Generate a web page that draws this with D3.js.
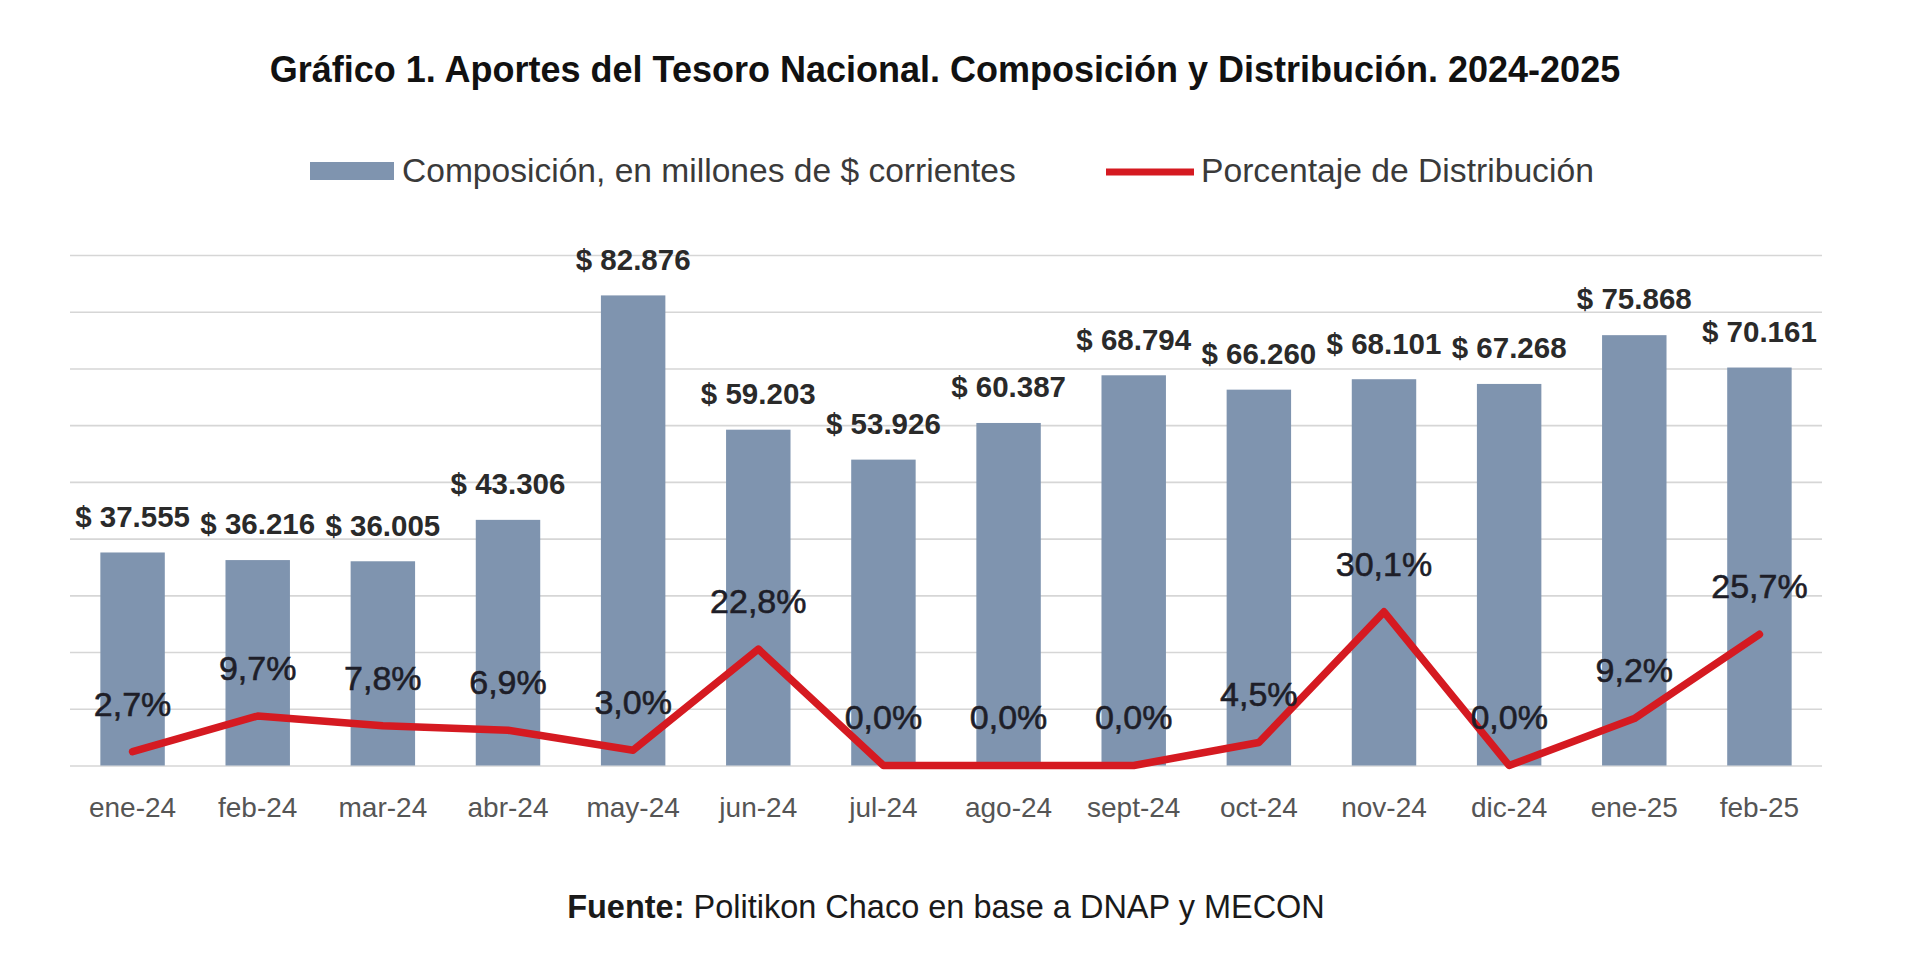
<!DOCTYPE html>
<html>
<head>
<meta charset="utf-8">
<script src="https://cdn.jsdelivr.net/npm/d3@7"></script>
<style>
  html, body { margin: 0; padding: 0; background: #ffffff; }
  svg { display: block; font-family: "Liberation Sans", Arial, sans-serif; }
</style>
</head>
<body>
<svg id="chart" width="1920" height="966"></svg>
<script>
// ---- Data ----
const categories = ["ene-24","feb-24","mar-24","abr-24","may-24","jun-24","jul-24","ago-24","sept-24","oct-24","nov-24","dic-24","ene-25","feb-25"];
const montos = [37555, 36216, 36005, 43306, 82876, 59203, 53926, 60387, 68794, 66260, 68101, 67268, 75868, 70161];
const porcentajes = [2.7, 9.7, 7.8, 6.9, 3.0, 22.8, 0.0, 0.0, 0.0, 4.5, 30.1, 0.0, 9.2, 25.7];
const yTicks = [0, 10000, 20000, 30000, 40000, 50000, 60000, 70000, 80000, 90000];
const titleText = "Gráfico 1. Aportes del Tesoro Nacional. Composición y Distribución. 2024-2025";
const legendBars = "Composición, en millones de $ corrientes";
const legendLine = "Porcentaje de Distribución";
const sourceBold = "Fuente:";
const sourceText = " Politikon Chaco en base a DNAP y MECON";

// ---- Layout ----
const svg = d3.select("#chart");
const plotLeft = 70, plotRight = 1822, plotTop = 255, plotBottom = 765.5;
const barColor = "#7f94af";
const lineColor = "#d51a21";

const locale = d3.formatLocale({decimal: ",", thousands: ".", grouping: [3], currency: ["$ ", ""]});
const fmtMonto = v => "$ " + locale.format(",")(v);
const fmtPct = v => locale.format(".1f")(v) + "%";

const x = d3.scaleBand().domain(categories).range([plotLeft, plotRight]).paddingInner(0.485).paddingOuter(0.2425);
const y = d3.scaleLinear().domain([0, 90000]).range([plotBottom, plotTop]);
const y2 = d3.scaleLinear().domain([0, 100]).range([plotBottom, plotTop]);

// fit text to a width helper
function fitText(sel, targetWidth, baseSize) {
  sel.attr("font-size", baseSize);
  const w = sel.node().getComputedTextLength();
  if (w > 0) sel.attr("font-size", baseSize * targetWidth / w);
}

// Title
const title = svg.append("text")
  .attr("x", 945).attr("y", 69).attr("dy", "0.35em")
  .attr("text-anchor", "middle").attr("font-weight", "bold").attr("fill", "#111")
  .text(titleText);
fitText(title, 1351, 30);

// Legend
svg.append("rect").attr("x", 310).attr("y", 162).attr("width", 84).attr("height", 18).attr("fill", barColor);
const lt1 = svg.append("text").attr("x", 402).attr("y", 170).attr("dy", "0.35em")
  .attr("fill", "#3a3a3a").text(legendBars);
fitText(lt1, 614, 32);
svg.append("line").attr("x1", 1106).attr("x2", 1194).attr("y1", 172).attr("y2", 172)
  .attr("stroke", lineColor).attr("stroke-width", 7);
const lt2 = svg.append("text").attr("x", 1201).attr("y", 170).attr("dy", "0.35em")
  .attr("fill", "#3a3a3a").text(legendLine);
fitText(lt2, 393, 32);

// Gridlines
const grid = svg.append("g").attr("transform", `translate(${plotLeft},0)`)
  .call(d3.axisLeft(y).tickValues(yTicks).tickSize(-(plotRight - plotLeft)).tickFormat(""));
grid.select(".domain").remove();
grid.selectAll(".tick line").attr("stroke", "#d6d6d6").attr("stroke-width", 1.6);

// Bars
svg.append("g").selectAll("rect").data(montos).join("rect")
  .attr("x", (d, i) => x(categories[i]))
  .attr("width", x.bandwidth())
  .attr("y", d => y(d))
  .attr("height", d => y(0) - y(d))
  .attr("fill", barColor);

// Value labels
svg.append("g").selectAll("text").data(montos).join("text")
  .attr("x", (d, i) => x(categories[i]) + x.bandwidth() / 2)
  .attr("y", d => y(d) - 36)
  .attr("dy", "0.35em")
  .attr("text-anchor", "middle")
  .attr("font-size", 29.5)
  .attr("font-weight", "bold")
  .attr("fill", "#2a2a2a")
  .text(d => fmtMonto(d));

// X axis labels
const xa = svg.append("g").attr("transform", `translate(0,${plotBottom})`)
  .call(d3.axisBottom(x).tickSize(0));
xa.select(".domain").remove();
xa.selectAll("text")
  .attr("y", 41.5).attr("dy", "0.35em")
  .attr("font-size", 28).attr("font-family", "Liberation Sans, Arial, sans-serif")
  .attr("fill", "#555");

// Line
const line = d3.line()
  .x((d, i) => x(categories[i]) + x.bandwidth() / 2)
  .y(d => y2(d));
svg.append("path").datum(porcentajes)
  .attr("d", line)
  .attr("fill", "none")
  .attr("stroke", lineColor)
  .attr("stroke-width", 7.5)
  .attr("stroke-linejoin", "round")
  .attr("stroke-linecap", "round");

// Percent labels
svg.append("g").selectAll("text").data(porcentajes).join("text")
  .attr("x", (d, i) => x(categories[i]) + x.bandwidth() / 2)
  .attr("y", d => y2(d) - 48)
  .attr("dy", "0.35em")
  .attr("text-anchor", "middle")
  .attr("font-size", 34)
  .attr("fill", "#1e1e28")
  .attr("stroke", "#1e1e28")
  .attr("stroke-width", 0.6)
  .text(d => fmtPct(d));

// Source
const src = svg.append("text").attr("x", 946).attr("y", 907).attr("dy", "0.35em")
  .attr("text-anchor", "middle").attr("fill", "#1a1a1a");
src.append("tspan").attr("font-weight", "bold").text(sourceBold);
src.append("tspan").text(sourceText);
fitText(src, 758, 29);
</script>
</body>
</html>
